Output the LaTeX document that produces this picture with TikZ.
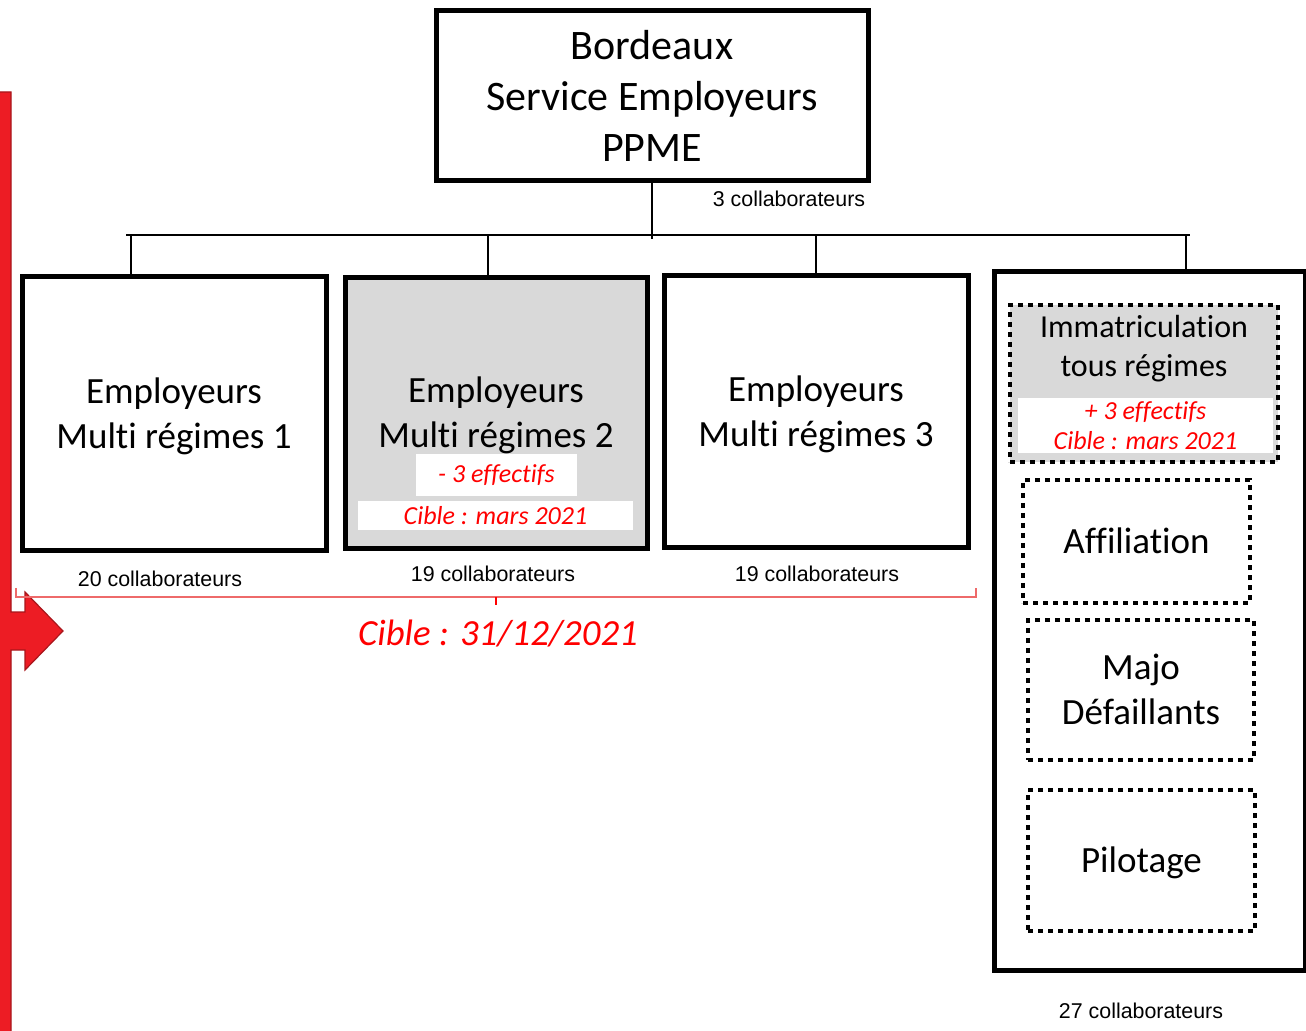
\documentclass[tikz,border=0pt]{standalone}
\usepackage{fontspec}
\setmainfont{Carlito}[Ligatures={NoCommon,NoContextual},Contextuals=NoAlternate]
\newfontfamily\arialfont{Liberation Sans}
\definecolor{boxgray}{HTML}{D9D9D9}
\definecolor{arrowred}{HTML}{ED1C24}
\definecolor{arrowedge}{HTML}{A8161C}
\definecolor{bracered}{HTML}{EE6A6A}
\tikzset{
  unit/.style={draw,line width=2.5pt,align=center,inner sep=0pt},
  dotbox/.style={draw,line width=2.4pt,dash pattern=on 2.4pt off 2.6pt,align=center,inner sep=0pt},
  conn/.style={line width=1pt},
  count/.style={font=\arialfont\fontsize{10.7}{12}\selectfont},
  target/.style={fill=white,text=red,align=center,inner sep=0pt,font=\itshape\fontsize{13}{15}\selectfont},
  bigtxt/.style={font=\fontsize{18.5}{22.5}\selectfont,text depth=1pt},
}
\begin{document}
\begin{tikzpicture}[x=0.5pt,y=-0.5pt]
      \useasboundingbox (0,0) rectangle (1306,1031);
      % red bar with arrow
      \draw[fill=arrowred,draw=arrowedge,line width=0.6pt]
        (-2,92) -- (11,92) -- (11,612) -- (25,612) -- (25,592) -- (63,631)
        -- (25,670) -- (25,650) -- (11,650) -- (11,1033) -- (-2,1033) -- cycle;
      \draw
        (652,96) node[unit,minimum width=216pt,minimum height=85pt,
          font=\fontsize{21}{25.5}\selectfont] (ppme){Bordeaux\\Service Employeurs\\PPME}
        (174,414) node[unit,bigtxt,minimum width=152pt,minimum height=137pt] (emp1){Employeurs\\Multi régimes 1}
        (496,413.5) node[unit,bigtxt,fill=boxgray,minimum width=151pt,minimum height=135.5pt] (emp2){Employeurs\\Multi régimes 2}
        (816,412) node[unit,bigtxt,minimum width=152pt,minimum height=136pt] (emp3){Employeurs\\Multi régimes 3}
        (1150,621) node[unit,minimum width=155.5pt,minimum height=349pt] (support){}
        (1144,383.5) node[dotbox,fill=boxgray,minimum width=134pt,minimum height=78.5pt] (immat){}
        (1136.5,541.5) node[dotbox,bigtxt,minimum width=113.5pt,minimum height=61.5pt] (affil){Affiliation}
        (1141,690) node[dotbox,bigtxt,minimum width=113pt,minimum height=70pt] (majo){Majo\\Défaillants}
        (1141.5,860.5) node[dotbox,bigtxt,minimum width=113.5pt,minimum height=70.5pt] (pilot){Pilotage};
      \draw
        (1144,349) node[align=center,font=\fontsize{16}{19.5}\selectfont] (immattxt){Immatriculation\\tous régimes}
        (1145.5,425.5) node[target,minimum width=127.5pt,minimum height=27.5pt] (immatgoal){+ 3 effectifs\\Cible : mars 2021}
        (496.5,475) node[target,minimum width=80.5pt,minimum height=21pt] (emp2less){- 3 effectifs}
        (495.5,515.5) node[target,minimum width=137.5pt,minimum height=14.5pt] (emp2goal){Cible : mars 2021};
      \draw
        (789,199) node[count] (ppmecount){3 collaborateurs}
        (160,579) node[count] (emp1count){20 collaborateurs}
        (493,574) node[count] (emp2count){19 collaborateurs}
        (817,574) node[count] (emp3count){19 collaborateurs}
        (1141,1011) node[count] (supportcount){27 collaborateurs}
        (498,634) node[text=red,font=\itshape\fontsize{18.4}{22}\selectfont] (goal){Cible : 31/12/2021};
      \coordinate (barL) at (126,235);
      \coordinate (barR) at (1190,235);
      \begin{scope}[conn]
        \draw (barL) -- (barR);
        \draw (ppme) -- (652,239);
        \draw (131,235) -- (emp1.north -| 131,0);
        \draw (488,235) -- (emp2.north -| 488,0);
        \draw (emp3.north |- barL) -- (emp3);
        \draw (1186,235) -- (support.north -| 1186,0);
      \end{scope}
      % brace under the three teams
      \draw[bracered,line width=1pt] (16,588) -- (16,597) -- (976,597) -- (976,588);
      \draw[red,line width=1pt] (496,597) -- (496,605);
    \end{tikzpicture}
\end{document}
